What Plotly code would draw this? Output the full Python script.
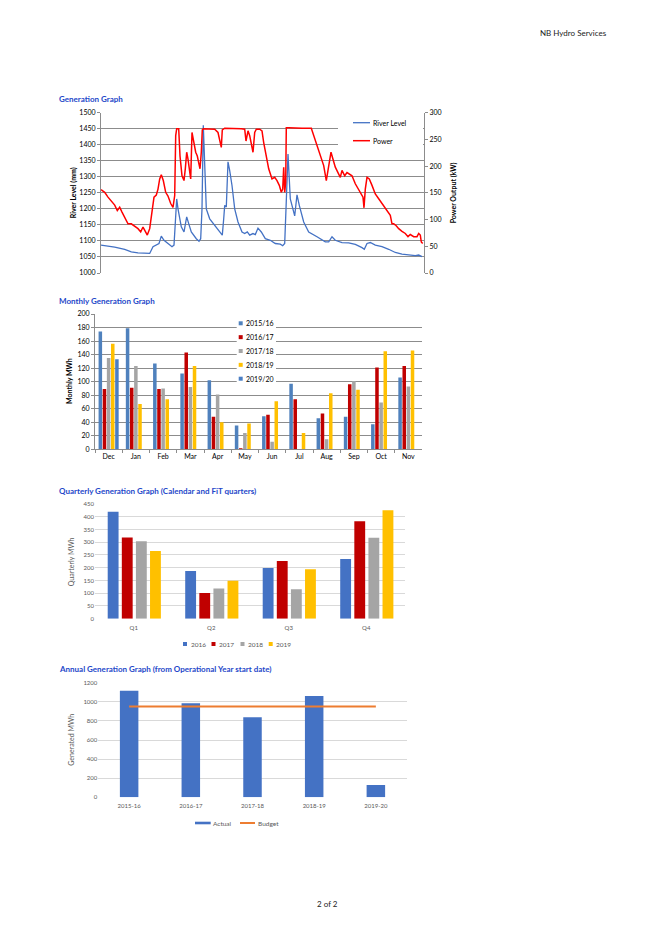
import plotly.graph_objects as go

W, H = 659, 933


def px(x):
    return x / W


def py(y):
    return 1 - y / H


FONT = "Lato, 'Open Sans', sans-serif"
TITLE_BLUE = "#2447C9"
GRID_DARK = "#8C8C8C"
GRID_LIGHT = "#D9D9D9"
TICK_GREY = "#595959"

# ---------------- Generation graph (daily samples across the year) ----------------
river_x = [0, 13.7, 23.7, 30.3, 37, 47, 48.7, 52, 55.3, 58, 60.3, 63, 67, 71, 73, 74.3,
           75.7, 77, 80.3, 83, 84.3, 85.7, 87.7, 90.3, 95.3, 98, 99.7, 101, 102.3, 103.7,
           105.3, 108.7, 113.7, 118.7, 121.3, 122.7, 123.7, 125.3, 127, 128.7, 131, 133.7,
           137, 141, 143.7, 146.3, 148.7, 152, 154.3, 157, 160.3,
           164.3, 169.3, 174.3, 179.3, 181.7, 183.7, 185, 187, 189.3, 191.7, 193.7, 196,
           198.3, 202.7, 207.7, 216, 224.3, 227.7, 231, 234.3, 241, 247.7, 254.3, 261,
           263.3, 266, 269.3, 274.3, 281, 287.7, 294.3, 301, 307.7, 314.3, 317.7, 321]
river_level = [1087, 1081, 1074, 1066, 1063, 1060, 1061, 1082, 1089, 1092, 1115, 1102, 1092,
               1082, 1087, 1169, 1231, 1200, 1144, 1128, 1159, 1175, 1154, 1128, 1107, 1099,
               1107, 1200, 1461, 1304, 1200, 1169, 1149, 1128, 1118, 1169, 1211, 1206, 1347,
               1319, 1273, 1200, 1159, 1128, 1123, 1128, 1118, 1123, 1120, 1140, 1128,
               1107, 1102, 1092, 1090, 1085, 1092, 1200, 1371, 1231, 1200, 1178, 1244,
               1211, 1159, 1128, 1113, 1097, 1097, 1113, 1102, 1095, 1094, 1089, 1079,
               1074, 1092, 1095, 1087, 1082, 1074, 1064, 1059, 1056, 1054, 1056, 1051]

power_x = [0, 3.7, 7, 10.3, 13.7, 16.3, 18.7, 21, 23.7, 27, 30.3, 33.7, 37, 39.7, 42, 44.3,
           46.3, 48.7, 51, 53, 55.3, 57, 58.7, 60.3, 62.3, 64.7, 67, 69.7, 72, 73.7, 74.7,
           75.7, 77.7, 79, 81, 83, 84.3, 85.7, 87, 88.7, 89.7, 91, 93, 94.7, 96.3, 98, 99,
           100.3, 101.3, 102.3, 107, 113.7, 117, 119, 120.3, 121.3, 123.7, 140.3, 143.7,
           145, 147, 148.7, 150.3, 152, 153.7, 155.3, 158.7,
           161, 162.7, 165, 167.7, 171, 173.7, 176, 178.3, 180.3, 181.7, 182.7, 183.7,
           184.7, 185.3, 187.7, 194.3, 201, 210.3, 212.7, 216, 219.3, 222.7, 225.3,
           227.7, 230, 232, 234.3, 237.7, 239.3, 241, 243.7, 246, 248.3, 251, 254.3,
           257.7, 260, 262, 263, 264.3, 266, 268.3, 271, 274.3, 277.7, 281, 284.3,
           287.7, 289.3, 291, 292.7, 295, 297.7, 301, 304.3, 307, 309.3, 312.7, 316,
           317.7, 319.3, 320.3, 321.7]
power_kw = [156, 151, 142, 134, 127, 117, 123, 114, 105, 92, 92, 88, 83, 77, 86, 78,
            71, 83, 120, 142, 146, 157, 176, 184, 173, 151, 144, 130, 123, 145, 257,
            270, 270, 219, 182, 173, 195, 226, 213, 182, 176, 263, 238, 226, 219, 207, 195,
            226, 268, 270, 270, 269, 263, 247, 235, 268, 271, 270, 269,
            247, 266, 257, 244, 226, 263, 269, 269,
            266, 244, 219, 195, 176, 179, 173, 164, 151, 157, 198, 151,
            170, 272, 272, 271, 271, 271, 257, 238, 219, 201, 173,
            201, 226, 213, 198, 185, 179, 192, 182, 188, 185, 182, 167,
            157, 148, 142, 122, 157, 179, 176, 164, 148, 139, 130, 123,
            114, 108, 92, 92, 89, 83, 78, 74, 68, 72, 68, 68,
            74, 71, 58, 55]

# ---------------- Monthly generation ----------------
months = ["Dec", "Jan", "Feb", "Mar", "Apr", "May", "Jun", "Jul", "Aug", "Sep", "Oct", "Nov"]
season_names = ["2015/16", "2016/17", "2017/18", "2018/19", "2019/20"]
m_2015_16 = [174, 179, 127, 112, 102, 35, 49, 97, 46, 48, 37, 106]
m_2016_17 = [89, 91, 89, 143, 48, 1.5, 51, 74, 53, 96, 121, 123]
m_2017_18 = [135, 123, 90, 92, 81, 24, 11, 0, 15, 101, 69, 93]
m_2018_19 = [156, 67, 74, 123, 40, 38, 71, 24, 83, 88, 145, 146]
m_2019_20 = [133, None, None, None, None, None, None, None, None, None, None, None]
season_colors = ["#4F81BD", "#C00000", "#A5A5A5", "#FFC000", "#4A7EC4"]

# ---------------- Quarterly generation ----------------
quarters = ["Q1", "Q2", "Q3", "Q4"]
q_years = ["2016", "2017", "2018", "2019"]
q_2016 = [420, 187, 199, 234]
q_2017 = [319, 101, 226, 382]
q_2018 = [304, 118, 116, 318]
q_2019 = [266, 149, 194, 425]
q_colors = ["#4472C4", "#C00000", "#A5A5A5", "#FFC000"]

# ---------------- Annual generation ----------------
op_years = ["2015-16", "2016-17", "2017-18", "2018-19", "2019-20"]
annual_actual = [1116, 984, 837, 1060, 129]
annual_budget = [952, 952, 952, 952, 952]

fig = go.Figure()

# Generation traces
fig.add_trace(go.Scatter(x=river_x, y=river_level, mode="lines", name="River Level",
                         line=dict(color="#4472C4", width=1.3), xaxis="x", yaxis="y",
                         showlegend=False))
fig.add_trace(go.Scatter(x=power_x, y=power_kw, mode="lines", name="Power",
                         line=dict(color="#FF0000", width=1.5), xaxis="x", yaxis="y2",
                         showlegend=False))

# Monthly traces
for name, vals, col in zip(season_names, [m_2015_16, m_2016_17, m_2017_18, m_2018_19, m_2019_20],
                           season_colors):
    fig.add_trace(go.Bar(x=months, y=vals, name=name, marker=dict(color=col, line=dict(width=0)),
                         xaxis="x2", yaxis="y3", showlegend=False))

# Quarterly traces (explicit widths / offsets)
q_offsets = [-0.336, -0.154, 0.028, 0.210]
for name, vals, col, off in zip(q_years, [q_2016, q_2017, q_2018, q_2019], q_colors, q_offsets):
    fig.add_trace(go.Bar(x=quarters, y=vals, name=name, width=0.14, offset=off,
                         marker=dict(color=col, line=dict(width=0)),
                         xaxis="x3", yaxis="y4", showlegend=False))

# Annual traces
fig.add_trace(go.Bar(x=op_years, y=annual_actual, name="Actual", width=0.3,
                     marker=dict(color="#4472C4", line=dict(width=0)),
                     xaxis="x4", yaxis="y5", showlegend=False))
fig.add_trace(go.Scatter(x=op_years, y=annual_budget, name="Budget", mode="lines",
                         line=dict(color="#ED7D31", width=2), xaxis="x4", yaxis="y5",
                         showlegend=False))

tick_black = dict(family=FONT, size=7, color="#000000")
tick_grey = dict(family=FONT, size=6, color=TICK_GREY)

layout = dict(
    width=W, height=H, margin=dict(l=0, r=0, t=0, b=0),
    paper_bgcolor="white", plot_bgcolor="white",
    font=dict(family=FONT, size=7, color="#000000"),
    barmode="group", bargap=0.24, bargroupgap=0.15,
    showlegend=False,
    # Generation graph
    xaxis=dict(domain=[px(101), px(424)], range=[0, 323], anchor="y", showticklabels=False,
               showgrid=False, zeroline=False, showline=False, ticks="", automargin=False),
    yaxis=dict(domain=[py(273), py(112.7)], range=[1000, 1500], dtick=50, anchor="x",
               gridcolor=GRID_DARK, gridwidth=1, showline=True, linecolor=GRID_DARK,
               ticks="outside", ticklen=3, tickcolor=GRID_DARK, tickfont=tick_black,
               zeroline=False, automargin=False),
    yaxis2=dict(overlaying="y", side="right", anchor="x", range=[0, 300], dtick=50,
                showgrid=False, showline=True, linecolor=GRID_DARK, ticks="outside",
                ticklen=3, tickcolor=GRID_DARK, tickfont=tick_black, zeroline=False,
                automargin=False),
    # Monthly graph
    xaxis2=dict(domain=[px(95), px(422)], anchor="y3", type="category", showline=True,
                linecolor=GRID_DARK, ticks="outside", tickson="boundaries", ticklen=3,
                tickcolor=GRID_DARK, tickfont=tick_black, showgrid=False, automargin=False),
    yaxis3=dict(domain=[py(449.3), py(314)], anchor="x2", range=[0, 200], dtick=20,
                gridcolor=GRID_DARK, showline=True, linecolor=GRID_DARK, ticks="outside",
                ticklen=3, tickcolor=GRID_DARK, tickfont=tick_black, zeroline=False,
                automargin=False),
    # Quarterly graph
    xaxis3=dict(domain=[px(95), px(405)], anchor="y4", type="category", showline=False,
                ticks="", tickfont=tick_grey, showgrid=False, automargin=False,
                ticklabelstandoff=4),
    yaxis4=dict(domain=[py(618.7), py(504)], anchor="x3", range=[0, 450], dtick=50,
                gridcolor=GRID_LIGHT, showline=False, ticks="", tickfont=tick_grey,
                zeroline=False, automargin=False),
    # Annual graph
    xaxis4=dict(domain=[px(98.3), px(406.7)], anchor="y5", type="category", showline=False,
                ticks="", tickfont=tick_grey, showgrid=False, automargin=False,
                ticklabelstandoff=4),
    yaxis5=dict(domain=[py(797.3), py(682.7)], anchor="x4", range=[0, 1200], dtick=200,
                gridcolor=GRID_LIGHT, showline=False, ticks="", tickfont=tick_grey,
                zeroline=False, automargin=False),
)

annotations = []
shapes = []


def text(x, y, s, size=7, color="#000000", bold=False, anchor="left", angle=0):
    annotations.append(dict(
        x=px(x), y=py(y), xref="paper", yref="paper", text=(f"<b>{s}</b>" if bold else s),
        showarrow=False, xanchor=anchor, yanchor="middle", textangle=angle,
        font=dict(family=FONT, size=size, color=color)))


# Page header / footer
text(538, 32.7, "NB Hydro Services", size=8, color="#222222")
text(327, 904, "2 of 2", size=8, color="#222222", anchor="center")

# Section titles
text(57, 99.5, "Generation Graph", size=8, color=TITLE_BLUE, bold=True)
text(57, 300.7, "Monthly Generation Graph", size=8, color=TITLE_BLUE, bold=True)
text(57, 490.7, "Quarterly Generation Graph (Calendar and FiT quarters)", size=8,
     color=TITLE_BLUE, bold=True)
text(57, 669.3, "Annual Generation Graph (from Operational Year start date)", size=8,
     color=TITLE_BLUE, bold=True)

# Axis titles
text(73.3, 193, "River Level (mm)", size=7, bold=True, anchor="center", angle=-90)
text(453.3, 193, "Power Output (kW)", size=7, bold=True, anchor="center", angle=-90)
text(69, 381, "Monthly MWh", size=7, bold=True, anchor="center", angle=-90)
text(70.7, 561.5, "Quarterly MWh", size=7, color=TICK_GREY, anchor="center", angle=-90)
text(70.7, 740, "Generated MWh", size=7, color=TICK_GREY, anchor="center", angle=-90)

# Generation legend
shapes.append(dict(type="rect", xref="paper", yref="paper", x0=px(338), x1=px(423),
                   y0=py(150), y1=py(114), fillcolor="white", line=dict(width=0),
                   layer="above"))
for yy, col, name, wdt in [(122.7, "#4472C4", "River Level", 1.3), (140.7, "#FF0000", "Power", 1.5)]:
    shapes.append(dict(type="line", xref="paper", yref="paper", x0=px(353), x1=px(370),
                       y0=py(yy), y1=py(yy), line=dict(color=col, width=wdt), layer="above"))
    text(371, yy, name, size=7)

# Monthly legend
shapes.append(dict(type="rect", xref="paper", yref="paper", x0=px(236.7), x1=px(276),
                   y0=py(386), y1=py(316.5), fillcolor="white", line=dict(width=0),
                   layer="above"))
for i, (name, col) in enumerate(zip(season_names, season_colors)):
    yy = 323.3 + i * 13.85
    shapes.append(dict(type="rect", xref="paper", yref="paper", x0=px(238.7), x1=px(242.7),
                       y0=py(yy + 2), y1=py(yy - 2), fillcolor=col, line=dict(width=0),
                       layer="above"))
    text(244.3, yy, name, size=7)

# Quarterly legend
for xc, name, col in zip([185, 213.5, 242.5, 270.7], q_years, q_colors):
    shapes.append(dict(type="rect", xref="paper", yref="paper", x0=px(xc - 2), x1=px(xc + 2),
                       y0=py(646), y1=py(642), fillcolor=col, line=dict(width=0)))
    text(xc + 3.5, 644, name, size=6.5, color=TICK_GREY)

# Annual legend
shapes.append(dict(type="rect", xref="paper", yref="paper", x0=px(195), x1=px(210.7),
                   y0=py(824.3), y1=py(821.7), fillcolor="#4472C4", line=dict(width=0)))
text(211.5, 823, "Actual", size=6.5, color=TICK_GREY)
shapes.append(dict(type="line", xref="paper", yref="paper", x0=px(240), x1=px(255),
                   y0=py(823), y1=py(823), line=dict(color="#ED7D31", width=2)))
text(256, 823, "Budget", size=6.5, color=TICK_GREY)

layout["annotations"] = annotations
layout["shapes"] = shapes
fig.update_layout(**layout)

fig.write_html(
    "out.html",
    config={"displayModeBar": False, "staticPlot": True},
    post_script=(
        "document.documentElement.style.margin='0px';"
        "document.body.style.margin='0px';"
        "document.body.style.padding='0px';"
        "document.documentElement.style.overflow='hidden';"
        "var gd=document.getElementById('{plot_id}');"
        "gd.style.position='fixed';gd.style.left='0px';gd.style.top='0px';"
    ),
)
